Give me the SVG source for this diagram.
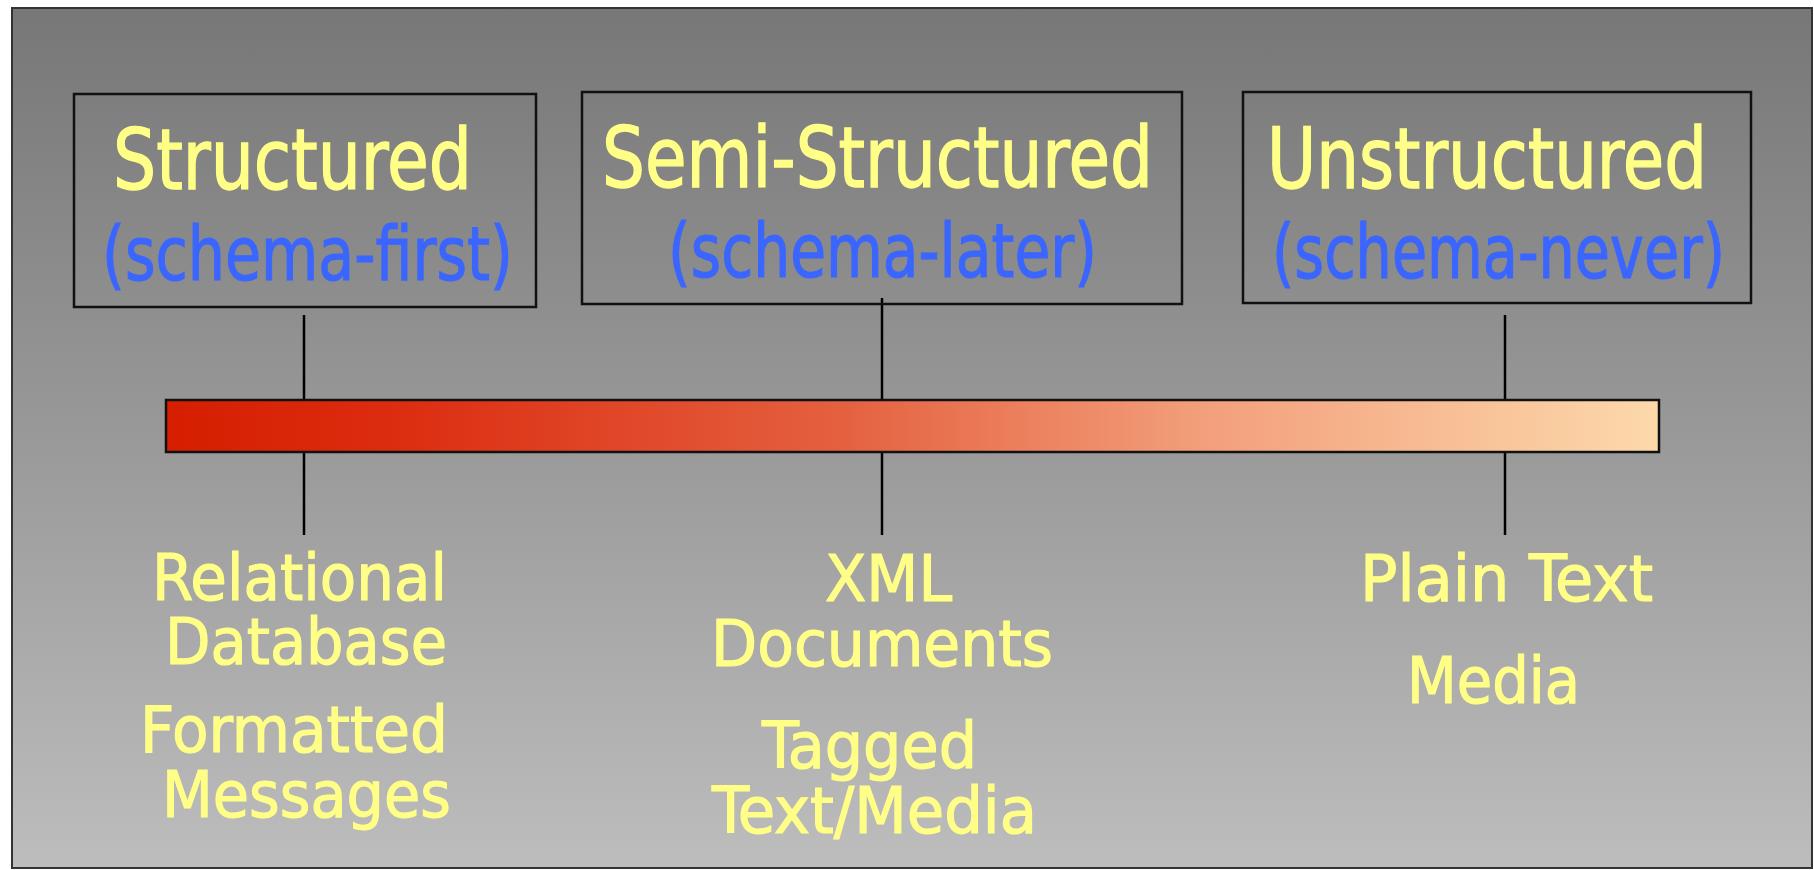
<svg xmlns="http://www.w3.org/2000/svg" width="1814" height="870" viewBox="0 0 1814 870">
<defs>
<linearGradient id="bg" x1="0" y1="0" x2="0" y2="1">
<stop offset="0" stop-color="#777777"/>
<stop offset="0.5" stop-color="#999999"/>
<stop offset="1" stop-color="#bdbdbd"/>
</linearGradient>
<linearGradient id="bar" x1="0" y1="0" x2="1" y2="0">
<stop offset="0" stop-color="#d61e00"/>
<stop offset="0.15" stop-color="#dc2c10"/>
<stop offset="0.45" stop-color="#e4603f"/>
<stop offset="0.7" stop-color="#f3a07c"/>
<stop offset="1" stop-color="#fcd9ab"/>
</linearGradient>
<style>
.box{fill:none;stroke:#111;stroke-width:2.5}
.t{font-family:"DejaVu Sans Condensed","DejaVu Sans",Verdana,sans-serif;font-stretch:condensed}
.title{fill:#ffff88;stroke:#ffff88;stroke-width:1.3;font-size:84px}
.sub{fill:#3a66ff;stroke:#3a66ff;stroke-width:1.1;font-size:74px}
.lab{fill:#ffff88;stroke:#ffff88;stroke-width:1.1;font-size:64px}
.con{stroke:#000;stroke-width:2.5;fill:none}
</style>
</defs>
<rect x="0" y="0" width="1814" height="870" fill="#ffffff"/>
<rect x="12" y="8" width="1800" height="860" fill="url(#bg)" stroke="#333" stroke-width="2"/>

<g id="connectors">
<line class="con" x1="304" y1="315" x2="304" y2="400"/>
<line class="con" x1="304" y1="452" x2="304" y2="535"/>
<line class="con" x1="882" y1="298" x2="882" y2="400"/>
<line class="con" x1="882" y1="452" x2="882" y2="535"/>
<line class="con" x1="1505" y1="315" x2="1505" y2="400"/>
<line class="con" x1="1505" y1="452" x2="1505" y2="535"/>
</g>

<g id="spectrum-bar">
<rect x="166" y="400" width="1493" height="52" fill="url(#bar)" stroke="#111" stroke-width="2.5"/>
</g>

<g id="node-structured">
<rect class="box" x="74" y="94" width="462" height="213"/>
<text class="t title" x="113" y="189" textLength="359" lengthAdjust="spacingAndGlyphs">Structured</text>
<text class="t sub" x="102" y="280" textLength="411" lengthAdjust="spacingAndGlyphs">(schema-first)</text>
</g>

<g id="node-semi-structured">
<rect class="box" x="582" y="92" width="600" height="212"/>
<text class="t title" x="602" y="187" textLength="551" lengthAdjust="spacingAndGlyphs">Semi-Structured</text>
<text class="t sub" x="668" y="277" textLength="429" lengthAdjust="spacingAndGlyphs">(schema-later)</text>
</g>

<g id="node-unstructured">
<rect class="box" x="1243" y="92" width="508" height="211"/>
<text class="t title" x="1267" y="188" textLength="440" lengthAdjust="spacingAndGlyphs">Unstructured</text>
<text class="t sub" x="1272" y="278" textLength="453" lengthAdjust="spacingAndGlyphs">(schema-never)</text>
</g>

<g id="label-structured">
<text class="t lab" x="152" y="600" textLength="295" lengthAdjust="spacingAndGlyphs">Relational</text>
<text class="t lab" x="165" y="664" textLength="282" lengthAdjust="spacingAndGlyphs">Database</text>
<text class="t lab" x="140" y="752" textLength="308" lengthAdjust="spacingAndGlyphs">Formatted</text>
<text class="t lab" x="162" y="817" textLength="289" lengthAdjust="spacingAndGlyphs">Messages</text>
</g>

<g id="label-semi-structured">
<text class="t lab" x="825" y="601" textLength="127" lengthAdjust="spacingAndGlyphs">XML</text>
<text class="t lab" x="711" y="666" textLength="342" lengthAdjust="spacingAndGlyphs">Documents</text>
<text class="t lab" x="762" y="768" textLength="215" lengthAdjust="spacingAndGlyphs">Tagged</text>
<text class="t lab" x="712" y="833" textLength="325" lengthAdjust="spacingAndGlyphs">Text/Media</text>
</g>

<g id="label-unstructured">
<text class="t lab" x="1360" y="601" textLength="293" lengthAdjust="spacingAndGlyphs">Plain Text</text>
<text class="t lab" x="1407" y="703" textLength="173" lengthAdjust="spacingAndGlyphs">Media</text>
</g>
</svg>
